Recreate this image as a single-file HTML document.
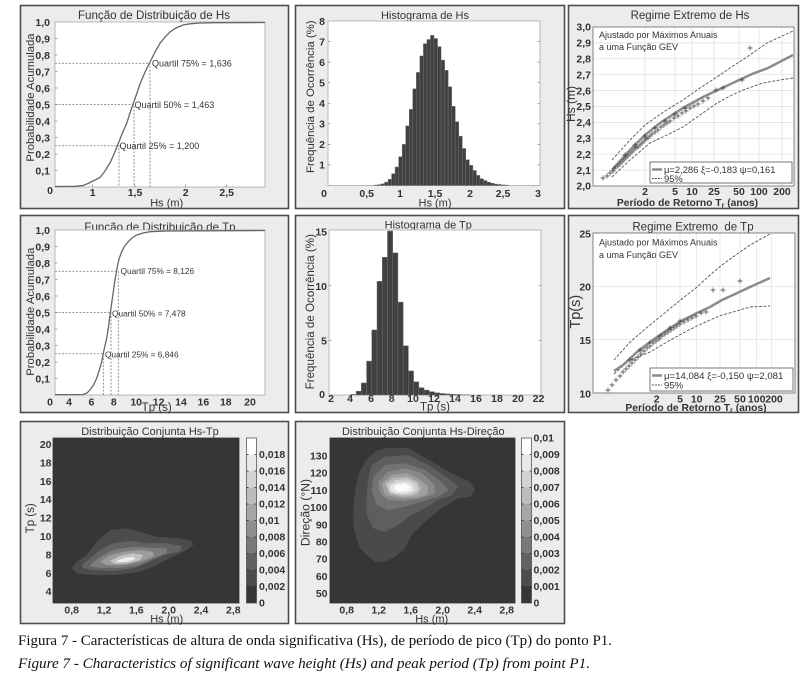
<!DOCTYPE html>
<html><head><meta charset="utf-8">
<style>
html,body{margin:0;padding:0;background:#fff;}
svg{display:block;}
text{fill:#333;font-family:"Liberation Sans",Arial,sans-serif;}
.b{font-weight:bold;font-size:10.5px;}
.r{text-anchor:end;}
.m{text-anchor:middle;}
.q{font-size:9px;}
.cap{font-family:"Liberation Serif","Times New Roman",serif;fill:#111;font-size:15px;}
</style></head>
<body>
<svg xmlns="http://www.w3.org/2000/svg" width="805" height="684" viewBox="0 0 805 684">
<rect width="805" height="684" fill="#fff"/>

<!-- ===== P1 : CDF Hs ===== -->
<rect x="20.5" y="5.5" width="268" height="203" fill="#ececec" stroke="#4d4d4d" stroke-width="1.6"/>
<text x="154" y="19" class="m" font-size="11.6">Função de Distribuição de Hs</text>
<rect x="55" y="22" width="210" height="165" fill="#fff" stroke="#aaa" stroke-width="0.8"/>
<path d="M55,38.5h2.5M55,55h2.5M55,71.5h2.5M55,88h2.5M55,104.5h2.5M55,121h2.5M55,137.5h2.5M55,154h2.5M55,170.5h2.5M92.7,187v-2.5M135,187v-2.5M185.7,187v-2.5M226.7,187v-2.5" stroke="#888" stroke-width="0.7"/>
<text x="50" y="25.8" class="b r">1,0</text>
<text x="50" y="42.3" class="b r">0,9</text>
<text x="50" y="58.8" class="b r">0,8</text>
<text x="50" y="75.3" class="b r">0,7</text>
<text x="50" y="91.8" class="b r">0,6</text>
<text x="50" y="108.3" class="b r">0,5</text>
<text x="50" y="124.8" class="b r">0,4</text>
<text x="50" y="141.3" class="b r">0,3</text>
<text x="50" y="157.8" class="b r">0,2</text>
<text x="50" y="174.3" class="b r">0,1</text>
<text x="50" y="194" class="b m">0</text>
<text x="92.7" y="196" class="b m">1</text>
<text x="135" y="196" class="b m">1,5</text>
<text x="185.7" y="196" class="b m">2</text>
<text x="226.7" y="196" class="b m">2,5</text>
<text x="166.7" y="206.5" class="m" font-size="11">Hs (m)</text>
<text transform="translate(34,97.5) rotate(-90)" class="m" font-size="11.3">Probabilidade Acumulada</text>
<path d="M55,145.75H119V187M55,104.5H134V187M55,63.25H150V187" fill="none" stroke="#777" stroke-width="0.8" stroke-dasharray="2,1.5"/>
<path d="M55,186.5L75,186.3L83,185.5L88,183.5L93,181L100,177.5L105,171L110,163L114,154L118.3,143.5L122,134L126.7,123.3L130,113L133.3,103.3L137,93L140,84L145,72L150,62L155,52L160,43.3L165,37L170,32L176,28L183,25L190,23.8L200,23L215,22.7L265,22.5" fill="none" stroke="#666" stroke-width="1.3"/>
<text x="152" y="66.5" class="q">Quartil 75% = 1,636</text>
<text x="134.5" y="108" class="q">Quartil 50% = 1,463</text>
<text x="119.5" y="149" class="q">Quartil 25% = 1,200</text>

<!-- ===== P2 : Histogram Hs ===== -->
<rect x="295.5" y="5.5" width="269" height="203" fill="#ececec" stroke="#4d4d4d" stroke-width="1.6"/>
<text x="425" y="19" class="m" font-size="11">Histograma de Hs</text>
<rect x="328" y="21" width="212" height="164.5" fill="#fff" stroke="#aaa" stroke-width="0.8"/>
<g transform="translate(328,185.5) scale(70.67,-20.56)" fill="#404040" stroke="#707070" stroke-width="0.5">
<rect vector-effect="non-scaling-stroke" x="0.65" y="0" width="0.05" height="0.02"/>
<rect vector-effect="non-scaling-stroke" x="0.70" y="0" width="0.05" height="0.04"/>
<rect vector-effect="non-scaling-stroke" x="0.75" y="0" width="0.05" height="0.08"/>
<rect vector-effect="non-scaling-stroke" x="0.80" y="0" width="0.05" height="0.16"/>
<rect vector-effect="non-scaling-stroke" x="0.85" y="0" width="0.05" height="0.30"/>
<rect vector-effect="non-scaling-stroke" x="0.90" y="0" width="0.05" height="0.57"/>
<rect vector-effect="non-scaling-stroke" x="0.95" y="0" width="0.05" height="0.90"/>
<rect vector-effect="non-scaling-stroke" x="1.00" y="0" width="0.05" height="1.40"/>
<rect vector-effect="non-scaling-stroke" x="1.05" y="0" width="0.05" height="2.00"/>
<rect vector-effect="non-scaling-stroke" x="1.10" y="0" width="0.05" height="2.90"/>
<rect vector-effect="non-scaling-stroke" x="1.15" y="0" width="0.05" height="3.70"/>
<rect vector-effect="non-scaling-stroke" x="1.20" y="0" width="0.05" height="4.70"/>
<rect vector-effect="non-scaling-stroke" x="1.25" y="0" width="0.05" height="5.50"/>
<rect vector-effect="non-scaling-stroke" x="1.30" y="0" width="0.05" height="6.30"/>
<rect vector-effect="non-scaling-stroke" x="1.35" y="0" width="0.05" height="6.90"/>
<rect vector-effect="non-scaling-stroke" x="1.40" y="0" width="0.05" height="7.10"/>
<rect vector-effect="non-scaling-stroke" x="1.45" y="0" width="0.05" height="7.30"/>
<rect vector-effect="non-scaling-stroke" x="1.50" y="0" width="0.05" height="7.15"/>
<rect vector-effect="non-scaling-stroke" x="1.55" y="0" width="0.05" height="6.75"/>
<rect vector-effect="non-scaling-stroke" x="1.60" y="0" width="0.05" height="6.10"/>
<rect vector-effect="non-scaling-stroke" x="1.65" y="0" width="0.05" height="5.60"/>
<rect vector-effect="non-scaling-stroke" x="1.70" y="0" width="0.05" height="4.80"/>
<rect vector-effect="non-scaling-stroke" x="1.75" y="0" width="0.05" height="3.85"/>
<rect vector-effect="non-scaling-stroke" x="1.80" y="0" width="0.05" height="3.10"/>
<rect vector-effect="non-scaling-stroke" x="1.85" y="0" width="0.05" height="2.40"/>
<rect vector-effect="non-scaling-stroke" x="1.90" y="0" width="0.05" height="1.80"/>
<rect vector-effect="non-scaling-stroke" x="1.95" y="0" width="0.05" height="1.25"/>
<rect vector-effect="non-scaling-stroke" x="2.00" y="0" width="0.05" height="0.98"/>
<rect vector-effect="non-scaling-stroke" x="2.05" y="0" width="0.05" height="0.73"/>
<rect vector-effect="non-scaling-stroke" x="2.10" y="0" width="0.05" height="0.49"/>
<rect vector-effect="non-scaling-stroke" x="2.15" y="0" width="0.05" height="0.33"/>
<rect vector-effect="non-scaling-stroke" x="2.20" y="0" width="0.05" height="0.24"/>
<rect vector-effect="non-scaling-stroke" x="2.25" y="0" width="0.05" height="0.16"/>
<rect vector-effect="non-scaling-stroke" x="2.30" y="0" width="0.05" height="0.11"/>
<rect vector-effect="non-scaling-stroke" x="2.35" y="0" width="0.05" height="0.07"/>
<rect vector-effect="non-scaling-stroke" x="2.40" y="0" width="0.05" height="0.05"/>
<rect vector-effect="non-scaling-stroke" x="2.45" y="0" width="0.05" height="0.03"/>
<rect vector-effect="non-scaling-stroke" x="2.50" y="0" width="0.05" height="0.02"/>
</g>
<path d="M328,164.9h2.5M328,144.4h2.5M328,123.8h2.5M328,103.3h2.5M328,82.7h2.5M328,62.1h2.5M328,41.6h2.5M540,164.9h-2.5M540,144.4h-2.5M540,123.8h-2.5M540,103.3h-2.5M540,82.7h-2.5M540,62.1h-2.5M540,41.6h-2.5" stroke="#888" stroke-width="0.7"/>
<text x="325" y="168.7" class="b r">1</text>
<text x="325" y="148.2" class="b r">2</text>
<text x="325" y="127.6" class="b r">3</text>
<text x="325" y="107.1" class="b r">4</text>
<text x="325" y="86.5" class="b r">5</text>
<text x="325" y="65.9" class="b r">6</text>
<text x="325" y="45.4" class="b r">7</text>
<text x="325" y="24.8" class="b r">8</text>
<text x="324" y="197" class="b m">0</text>
<text x="366.7" y="197" class="b m">0,5</text>
<text x="400" y="197" class="b m">1</text>
<text x="435" y="197" class="b m">1,5</text>
<text x="470" y="197" class="b m">2</text>
<text x="503" y="197" class="b m">2,5</text>
<text x="538" y="197" class="b m">3</text>
<text x="435" y="206.5" class="m" font-size="11">Hs (m)</text>
<text transform="translate(314,96.7) rotate(-90)" class="m" font-size="11.4">Frequência de Ocorrência (%)</text>

<!-- ===== P3 : Regime extremo Hs ===== -->
<rect x="568.5" y="5.5" width="230" height="203" fill="#ececec" stroke="#4d4d4d" stroke-width="1.6"/>
<text x="690" y="19" class="m" font-size="11.5">Regime Extremo de Hs</text>
<rect x="593" y="27" width="201" height="159" fill="#fff"/>
<path d="M593,170.1H794M593,154.2H794M593,138.3H794M593,122.4H794M593,106.5H794M593,90.6H794M593,74.7H794M593,58.8H794M593,42.9H794M645,27V186M675,27V186M692,27V186M714,27V186M739,27V186M759,27V186M782,27V186" stroke="#dedede" stroke-width="0.7"/>
<rect x="593" y="27" width="201" height="159" fill="none" stroke="#666" stroke-width="0.8"/>
<g font-size="9.8">
<text x="591" y="30.7" class="b r" font-size="9.8">3,0</text>
<text x="591" y="46.6" class="b r" font-size="9.8">2,9</text>
<text x="591" y="62.5" class="b r" font-size="9.8">2,8</text>
<text x="591" y="78.4" class="b r" font-size="9.8">2,7</text>
<text x="591" y="94.3" class="b r" font-size="9.8">2,6</text>
<text x="591" y="110.2" class="b r" font-size="9.8">2,5</text>
<text x="591" y="126.1" class="b r" font-size="9.8">2,4</text>
<text x="591" y="142" class="b r" font-size="9.8">2,3</text>
<text x="591" y="157.9" class="b r" font-size="9.8">2,2</text>
<text x="591" y="173.8" class="b r" font-size="9.8">2,1</text>
<text x="591" y="189.7" class="b r" font-size="9.8">2,0</text>
</g>
<text x="645" y="195" class="b m">2</text>
<text x="675" y="195" class="b m">5</text>
<text x="692" y="195" class="b m">10</text>
<text x="714" y="195" class="b m">25</text>
<text x="739" y="195" class="b m">50</text>
<text x="759" y="195" class="b m">100</text>
<text x="782" y="195" class="b m">200</text>
<text x="687.5" y="206" class="m" font-size="10.3" font-weight="bold">Período de Retorno T<tspan font-size="7" dy="1.5">r</tspan><tspan dy="-1.5"> (anos)</tspan></text>
<text transform="translate(575,104) rotate(-90)" class="m" font-size="12">Hs (m)</text>
<text x="599" y="38" font-size="9">Ajustado por Máximos Anuais</text>
<text x="599" y="50" font-size="9">a uma Função GEV</text>
<path d="M612,160L615,156.7L630,140L645,125L665,111L683,100L700,88L717,77L733,66L747,57L767,43L793,31" fill="none" stroke="#555" stroke-width="0.9" stroke-dasharray="3,1.5"/>
<path d="M612,177L630,160L650,143L667,135L683,127L700,115L717,103L730,96L743,90L763,83L780,80L793,78" fill="none" stroke="#555" stroke-width="0.9" stroke-dasharray="3,1.5"/>
<path d="M612,170L620,161L630,150L645,135L660,123L683,108L703,97L720,89L737,81L752,74L768,68L793,55" fill="none" stroke="#8c8c8c" stroke-width="2.5"/>
<path d="M600.5,178h5M603,175.5v5M604.5,176h5M607,173.5v5M607.5,173h5M610,170.5v5M610.5,171h5M613,168.5v5M612.5,168h5M615,165.5v5M615.5,166h5M618,163.5v5M617.5,164h5M620,161.5v5M619.5,162h5M622,159.5v5M621.5,160h5M624,157.5v5M623.5,158h5M626,155.5v5M625.5,156h5M628,153.5v5M627.5,154h5M630,151.5v5M629.5,152h5M632,149.5v5M631.5,150h5M634,147.5v5M633.5,148h5M636,145.5v5M635.5,147h5M638,144.5v5M637.5,145h5M640,142.5v5M639.5,143h5M642,140.5v5M641.5,141h5M644,138.5v5M643.5,139h5M646,136.5v5M645.5,138h5M648,135.5v5M647.5,136h5M650,133.5v5M649.5,134h5M652,131.5v5M652.5,132h5M655,129.5v5M655.5,130h5M658,127.5v5M658.5,127h5M661,124.5v5M661.5,125h5M664,122.5v5M664.5,123h5M667,120.5v5M667.5,121h5M670,118.5v5M671.5,118h5M674,115.5v5M675.5,116h5M678,113.5v5M679.5,113h5M682,110.5v5M683.5,111h5M686,108.5v5M687.5,108h5M690,105.5v5M691.5,106h5M694,103.5v5M695.5,104h5M698,101.5v5M700.5,101h5M703,98.5v5M705.5,98h5M708,95.5v5M713.5,90h5M716,87.5v5M720.5,88h5M723,85.5v5M739.5,80h5M742,77.5v5M747.5,48h5M750,45.5v5M622.5,155h5M625,152.5v5M632.5,145h5M635,142.5v5M642.5,136h5M645,133.5v5M652.5,128h5M655,125.5v5M662.5,121h5M665,118.5v5M672.5,114h5M675,111.5v5M682.5,108h5M685,105.5v5" stroke="#3a3a3a" stroke-width="0.7" fill="none"/>
<rect x="650" y="162" width="142" height="21" fill="#fff" stroke="#555" stroke-width="0.8"/>
<path d="M652,169.5h10" stroke="#8c8c8c" stroke-width="2.5"/>
<path d="M652,178.5h10" stroke="#555" stroke-width="0.9" stroke-dasharray="2,1"/>
<text x="664" y="173" font-size="9.4">μ=2,286 ξ=-0,183 ψ=0,161</text>
<text x="664" y="182" font-size="9.4">95%</text>

<!-- ===== P4 : CDF Tp ===== -->
<rect x="20.5" y="215.5" width="268" height="197" fill="#ececec" stroke="#4d4d4d" stroke-width="1.6"/>
<text x="160" y="231" class="m" font-size="11.6">Função de Distribuição de Tp</text>
<rect x="55" y="230" width="210" height="165" fill="#fff" stroke="#aaa" stroke-width="0.8"/>
<path d="M55,246.5h2.5M55,263h2.5M55,279.5h2.5M55,296h2.5M55,312.5h2.5M55,329h2.5M55,345.5h2.5M55,362h2.5M55,378.5h2.5" stroke="#888" stroke-width="0.7"/>
<text x="50" y="233.8" class="b r">1,0</text>
<text x="50" y="250.3" class="b r">0,9</text>
<text x="50" y="266.8" class="b r">0,8</text>
<text x="50" y="283.3" class="b r">0,7</text>
<text x="50" y="299.8" class="b r">0,6</text>
<text x="50" y="316.3" class="b r">0,5</text>
<text x="50" y="332.8" class="b r">0,4</text>
<text x="50" y="349.3" class="b r">0,3</text>
<text x="50" y="365.8" class="b r">0,2</text>
<text x="50" y="382.3" class="b r">0,1</text>
<text x="50" y="405.5" class="b m">0</text>
<text x="69" y="405.5" class="b m">4</text>
<text x="91.4" y="405.5" class="b m">6</text>
<text x="113.8" y="405.5" class="b m">8</text>
<text x="136.2" y="405.5" class="b m">10</text>
<text x="158.6" y="405.5" class="b m">12</text>
<text x="181" y="405.5" class="b m">14</text>
<text x="203.4" y="405.5" class="b m">16</text>
<text x="225.8" y="405.5" class="b m">18</text>
<text x="250" y="405.5" class="b m">20</text>
<text x="156.7" y="411" class="m" font-size="11.5">Tp (s)</text>
<text transform="translate(34,311.7) rotate(-90)" class="m" font-size="11.3">Probabilidade Acumulada</text>
<path d="M55,353.75H103.3V395M55,312.5H111V395M55,271.25H118.3V395" fill="none" stroke="#777" stroke-width="0.8" stroke-dasharray="2,1.5"/>
<path d="M55,394.7L83,394.5L87,393L90,390L93.5,385L96.7,378.3L99,371L101.7,361.7L104,350L106.7,338.3L108.5,327L110,315L111.7,303L113.3,291.7L115,280L116.7,270L119,259L121.7,251.7L125,245.5L128.3,241.7L132,238L136.7,235L143,233L150,231.7L166.7,231L265,230.5" fill="none" stroke="#666" stroke-width="1.3"/>
<text x="120.5" y="274" font-size="8.3">Quartil 75% = 8,126</text>
<text x="112" y="316.5" font-size="8.3">Quartil 50% = 7,478</text>
<text x="105" y="357.5" font-size="8.3">Quartil 25% = 6,846</text>

<!-- ===== P5 : Histogram Tp ===== -->
<rect x="295.5" y="215.5" width="269" height="197" fill="#ececec" stroke="#4d4d4d" stroke-width="1.6"/>
<text x="428.3" y="228.5" class="m" font-size="11">Histograma de Tp</text>
<rect x="329" y="230" width="212" height="165" fill="#fff" stroke="#aaa" stroke-width="0.8"/>
<g transform="translate(309.1,395) scale(10.45,-10.93)" fill="#404040" stroke="#707070" stroke-width="0.5">
<rect vector-effect="non-scaling-stroke" x="4.0" y="0" width="0.5" height="0.05"/>
<rect vector-effect="non-scaling-stroke" x="4.5" y="0" width="0.5" height="0.35"/>
<rect vector-effect="non-scaling-stroke" x="5.0" y="0" width="0.5" height="1.1"/>
<rect vector-effect="non-scaling-stroke" x="5.5" y="0" width="0.5" height="3.1"/>
<rect vector-effect="non-scaling-stroke" x="6.0" y="0" width="0.5" height="5.95"/>
<rect vector-effect="non-scaling-stroke" x="6.5" y="0" width="0.5" height="10.4"/>
<rect vector-effect="non-scaling-stroke" x="7.0" y="0" width="0.5" height="12.6"/>
<rect vector-effect="non-scaling-stroke" x="7.5" y="0" width="0.5" height="15.0"/>
<rect vector-effect="non-scaling-stroke" x="8.0" y="0" width="0.5" height="13.0"/>
<rect vector-effect="non-scaling-stroke" x="8.5" y="0" width="0.5" height="8.5"/>
<rect vector-effect="non-scaling-stroke" x="9.0" y="0" width="0.5" height="4.5"/>
<rect vector-effect="non-scaling-stroke" x="9.5" y="0" width="0.5" height="2.2"/>
<rect vector-effect="non-scaling-stroke" x="10.0" y="0" width="0.5" height="1.2"/>
<rect vector-effect="non-scaling-stroke" x="10.5" y="0" width="0.5" height="0.67"/>
<rect vector-effect="non-scaling-stroke" x="11.0" y="0" width="0.5" height="0.45"/>
<rect vector-effect="non-scaling-stroke" x="11.5" y="0" width="0.5" height="0.3"/>
<rect vector-effect="non-scaling-stroke" x="12.0" y="0" width="0.5" height="0.2"/>
<rect vector-effect="non-scaling-stroke" x="12.5" y="0" width="0.5" height="0.14"/>
<rect vector-effect="non-scaling-stroke" x="13.0" y="0" width="0.5" height="0.1"/>
<rect vector-effect="non-scaling-stroke" x="13.5" y="0" width="0.5" height="0.07"/>
<rect vector-effect="non-scaling-stroke" x="14.0" y="0" width="0.5" height="0.05"/>
<rect vector-effect="non-scaling-stroke" x="14.5" y="0" width="0.5" height="0.03"/>
<rect vector-effect="non-scaling-stroke" x="15.0" y="0" width="0.5" height="0.02"/>
</g>
<path d="M329,340.4h2.5M329,285.7h2.5M541,340.4h-2.5M541,285.7h-2.5" stroke="#888" stroke-width="0.7"/>
<text x="327" y="235.5" class="b r">15</text>
<text x="327" y="289.8" class="b r">10</text>
<text x="327" y="344.5" class="b r">5</text>
<text x="322" y="398" class="b m">0</text>
<text x="331" y="402" class="b m">2</text>
<text x="350" y="402" class="b m">4</text>
<text x="371" y="402" class="b m">6</text>
<text x="391.7" y="402" class="b m">8</text>
<text x="413" y="402" class="b m">10</text>
<text x="434" y="402" class="b m">12</text>
<text x="455" y="402" class="b m">14</text>
<text x="476" y="402" class="b m">16</text>
<text x="497" y="402" class="b m">18</text>
<text x="518" y="402" class="b m">20</text>
<text x="538.5" y="402" class="b m">22</text>
<text x="435" y="410.5" class="m" font-size="11.5">Tp (s)</text>
<text transform="translate(314,311.7) rotate(-90)" class="m" font-size="11.6">Frequência de Ocorrência (%)</text>

<!-- ===== P6 : Regime extremo Tp ===== -->
<rect x="568.5" y="215.5" width="230" height="197" fill="#ececec" stroke="#4d4d4d" stroke-width="1.6"/>
<text x="693" y="230.5" class="m" font-size="11.5">Regime Extremo&#160; de Tp</text>
<rect x="593" y="233" width="202" height="160" fill="#fff"/>
<path d="M593,286.3H795M593,339.7H795M656.7,233V393M680,233V393M696.7,233V393M720,233V393M740,233V393M756.7,233V393M771.7,233V393" stroke="#dedede" stroke-width="0.7"/>
<rect x="593" y="233" width="202" height="160" fill="none" stroke="#666" stroke-width="0.8"/>
<text x="591" y="237.5" class="b r" font-size="11">25</text>
<text x="591" y="290.5" class="b r" font-size="11">20</text>
<text x="591" y="344" class="b r" font-size="11">15</text>
<text x="591" y="397.5" class="b r" font-size="11">10</text>
<text x="656.7" y="402.5" class="b m">2</text>
<text x="680" y="402.5" class="b m">5</text>
<text x="696.7" y="402.5" class="b m">10</text>
<text x="720" y="402.5" class="b m">25</text>
<text x="740" y="402.5" class="b m">50</text>
<text x="756.7" y="402.5" class="b m">100</text>
<text x="774" y="402.5" class="b m">200</text>
<text x="696" y="411" class="m" font-size="10.3" font-weight="bold">Período de Retorno T<tspan font-size="7" dy="1.5">r</tspan><tspan dy="-1.5"> (anos)</tspan></text>
<text transform="translate(580,311.7) rotate(-90)" class="m" font-size="14.5">Tp(s)</text>
<text x="599" y="245.5" font-size="9">Ajustado por Máximos Anuais</text>
<text x="599" y="258" font-size="9">a uma Função GEV</text>
<path d="M614,360L630,342L650,325L667,311L683,298L697,287L710,275L722,265L733,257L750,245L770,234" fill="none" stroke="#555" stroke-width="0.9" stroke-dasharray="3,1.5"/>
<path d="M614,374L630,360L650,352L667,342L683,333L697,326L710,320L722,315L733,312L750,307L770,306" fill="none" stroke="#555" stroke-width="0.9" stroke-dasharray="3,1.5"/>
<path d="M614,371L623,365L637,352L650,342L667,330L683,320L697,313L710,307L722,300L733,295L750,287L770,278" fill="none" stroke="#8c8c8c" stroke-width="2.5"/>
<path d="M605.5,390h5M608,387.5v5M609.5,385h5M612,382.5v5M613.5,380h5M616,377.5v5M617.5,376h5M620,373.5v5M620.5,372h5M623,369.5v5M623.5,369h5M626,366.5v5M626.5,366h5M629,363.5v5M629.5,363h5M632,360.5v5M632.5,360h5M635,357.5v5M635.5,357h5M638,354.5v5M638.5,354h5M641,351.5v5M641.5,351h5M644,348.5v5M644.5,348h5M647,345.5v5M647.5,346h5M650,343.5v5M650.5,343h5M653,340.5v5M653.5,341h5M656,338.5v5M656.5,339h5M659,336.5v5M659.5,336h5M662,333.5v5M662.5,334h5M665,331.5v5M665.5,332h5M668,329.5v5M668.5,330h5M671,327.5v5M671.5,328h5M674,325.5v5M674.5,326h5M677,323.5v5M677.5,324h5M680,321.5v5M681.5,322h5M684,319.5v5M685.5,320h5M688,317.5v5M689.5,318h5M692,315.5v5M693.5,316h5M696,313.5v5M698.5,313h5M701,310.5v5M703.5,312h5M706,309.5v5M710.5,290h5M713,287.5v5M720.5,290h5M723,287.5v5M737.5,281h5M740,278.5v5M627.5,360h5M630,357.5v5M637.5,350h5M640,347.5v5M647.5,343h5M650,340.5v5M657.5,336h5M660,333.5v5M667.5,328h5M670,325.5v5M677.5,321h5M680,318.5v5" stroke="#3a3a3a" stroke-width="0.7" fill="none"/>
<rect x="650" y="368" width="143" height="23" fill="#fff" stroke="#555" stroke-width="0.8"/>
<path d="M652,375.5h10" stroke="#8c8c8c" stroke-width="2.5"/>
<path d="M652,385h10" stroke="#555" stroke-width="0.9" stroke-dasharray="2,1"/>
<text x="664" y="379" font-size="9.6">μ=14,084 ξ=-0,150 ψ=2,081</text>
<text x="664" y="388.5" font-size="9.6">95%</text>

<!-- ===== P7 : Joint Hs-Tp ===== -->
<rect x="20.5" y="421.5" width="268" height="202" fill="#ececec" stroke="#4d4d4d" stroke-width="1.6"/>
<text x="150" y="435" class="m" font-size="11">Distribuição Conjunta Hs-Tp</text>
<rect x="53" y="438" width="186" height="165" fill="#363636" stroke="#333" stroke-width="0.8"/>
<polygon points="71.7,568.3 76.7,561.7 86.7,555 96.7,541.7 110,530 126.7,528.3 140,531.7 156.7,536.7 180,538.3 191.7,541 193.3,545 186.7,550 170,558.3 156.7,565 140,571.7 116.7,575 93.3,575 76.7,573.3" fill="#4c4c4c"/>
<polygon points="81.7,565 90,558.3 100,550 113.3,543.3 130,541 146.7,543.3 166.7,543.3 181.7,546 180,551.7 163.3,555 146.7,563.3 133.3,568.3 113.3,571 93.3,570 83.3,568.3" fill="#636363"/>
<polygon points="90,565 100,556.7 113.3,550 133.3,546.7 150,547.7 166.7,548.3 166.7,553.3 153.3,558.3 140,565 120,567.7 100,567.7 91.7,566.7" fill="#7d7d7d"/>
<polygon points="100,561.7 110,555 123.3,551.7 140,550 153.3,551.7 153.3,556.7 140,561.7 123.3,565 106.7,565" fill="#9c9c9c"/>
<polygon points="110,561 120,555.7 133.3,553.3 143.3,555 140,560 128.3,563.3 115,564" fill="#c4c4c4"/>
<polygon points="116.7,560.7 125,557.7 133.3,556.7 135,559.3 126.7,561.7 118.3,562.3" fill="#f0f0f0"/>
<rect x="246.5" y="438" width="10" height="16.5" fill="#ffffff"/>
<rect x="246.5" y="454.5" width="10" height="16.5" fill="#e9e9e9"/>
<rect x="246.5" y="471" width="10" height="16.5" fill="#d3d3d3"/>
<rect x="246.5" y="487.5" width="10" height="16.5" fill="#bcbcbc"/>
<rect x="246.5" y="504" width="10" height="16.5" fill="#a6a6a6"/>
<rect x="246.5" y="520.5" width="10" height="16.5" fill="#8f8f8f"/>
<rect x="246.5" y="537" width="10" height="16.5" fill="#797979"/>
<rect x="246.5" y="553.5" width="10" height="16.5" fill="#626262"/>
<rect x="246.5" y="570" width="10" height="16.5" fill="#4c4c4c"/>
<rect x="246.5" y="586.5" width="10" height="16.5" fill="#363636"/>
<rect x="246.5" y="438" width="10" height="165" fill="none" stroke="#444" stroke-width="0.7"/>
<path d="M246.5,454.5h2M246.5,471h2M246.5,487.5h2M246.5,504h2M246.5,520.5h2M246.5,537h2M246.5,553.5h2M246.5,570h2M246.5,586.5h2M256.5,454.5h-2M256.5,471h-2M256.5,487.5h-2M256.5,504h-2M256.5,520.5h-2M256.5,537h-2M256.5,553.5h-2M256.5,570h-2M256.5,586.5h-2" stroke="#222" stroke-width="0.7"/>
<text x="259" y="458" class="b" font-size="9.5">0,018</text>
<text x="259" y="474.5" class="b" font-size="9.5">0,016</text>
<text x="259" y="491" class="b" font-size="9.5">0,014</text>
<text x="259" y="507.5" class="b" font-size="9.5">0,012</text>
<text x="259" y="524" class="b" font-size="9.5">0,01</text>
<text x="259" y="540.5" class="b" font-size="9.5">0,008</text>
<text x="259" y="557" class="b" font-size="9.5">0,006</text>
<text x="259" y="573.5" class="b" font-size="9.5">0,004</text>
<text x="259" y="590" class="b" font-size="9.5">0,002</text>
<text x="259" y="606.5" class="b" font-size="9.5">0</text>
<text x="51.5" y="448" class="b r">20</text>
<text x="51.5" y="466.4" class="b r">18</text>
<text x="51.5" y="484.8" class="b r">16</text>
<text x="51.5" y="503.2" class="b r">14</text>
<text x="51.5" y="521.6" class="b r">12</text>
<text x="51.5" y="540" class="b r">10</text>
<text x="51.5" y="558.4" class="b r">8</text>
<text x="51.5" y="576.8" class="b r">6</text>
<text x="51.5" y="595.2" class="b r">4</text>
<text x="71.7" y="613.5" class="b m">0,8</text>
<text x="104" y="613.5" class="b m">1,2</text>
<text x="136.3" y="613.5" class="b m">1,6</text>
<text x="168.7" y="613.5" class="b m">2,0</text>
<text x="201" y="613.5" class="b m">2,4</text>
<text x="233.3" y="613.5" class="b m">2,8</text>
<text x="166.7" y="622.5" class="m" font-size="11">Hs (m)</text>
<text transform="translate(34,518.3) rotate(-90)" class="m" font-size="11.5">Tp (s)</text>

<!-- ===== P8 : Joint Hs-Direção ===== -->
<rect x="295.5" y="421.5" width="269" height="202" fill="#ececec" stroke="#4d4d4d" stroke-width="1.6"/>
<text x="423.3" y="435" class="m" font-size="11">Distribuição Conjunta Hs-Direção</text>
<rect x="330" y="438" width="185" height="165" fill="#363636" stroke="#333" stroke-width="0.8"/>
<polygon points="385,447.7 408.3,447.7 431.7,461.7 458.3,476.7 470,481.7 475,490 470,496.7 458.3,498.3 441.7,508.3 425,521.7 411.7,535 405,548.3 395,556.7 385,561.7 375,561.7 368.3,556.7 360,548.3 356.7,538.3 353.3,525 353.3,508.3 355,491.7 358.3,475 365,461.7 375,451.7" fill="#4a4a4a"/>
<polygon points="371.7,465 385,456.7 408.3,455 428.3,465 448.3,478.3 458.3,486.7 451.7,495 438.3,500 425,508.3 411.7,515 398.3,525 385,531.7 373.3,528.3 366.7,515 366.7,495 368.3,478.3" fill="#5e5e5e"/>
<polygon points="373.3,476.7 385,465 405,463.3 425,470 441.7,481.7 448.3,490 438.3,496.7 421.7,501.7 405,506.7 388.3,510 376.7,505 371.7,491.7" fill="#737373"/>
<polygon points="378.3,481.7 388.3,471.7 405,468.3 421.7,473.3 435,485 435,493.3 421.7,498.3 405,501 388.3,500 380,493.3" fill="#888888"/>
<polygon points="381.7,483.3 391.7,475 406.7,473.3 418.3,478.3 428.3,486.7 426.7,495 415,498.3 398.3,498.3 385,495" fill="#9f9f9f"/>
<polygon points="385,483.3 393.3,477.7 406.7,476.7 416.7,481 421.7,488.3 416.7,495 403.3,496.7 390,494.3" fill="#b7b7b7"/>
<polygon points="386.7,485 395,480 408.3,479.3 416.7,483.3 418.3,490 411.7,494.3 400,495 390,492.3" fill="#d0d0d0"/>
<polygon points="390,485.7 398.3,482.3 408.3,482.3 413.3,485.7 413.3,491 406.7,493.3 396.7,493.3 391,491" fill="#e7e7e7"/>
<polygon points="395,485 405,483.3 410,486.7 408.3,491 398.3,491.7 394.3,489" fill="#fbfbfb"/>
<rect x="521.5" y="438" width="10" height="16.5" fill="#ffffff"/>
<rect x="521.5" y="454.5" width="10" height="16.5" fill="#e9e9e9"/>
<rect x="521.5" y="471" width="10" height="16.5" fill="#d3d3d3"/>
<rect x="521.5" y="487.5" width="10" height="16.5" fill="#bcbcbc"/>
<rect x="521.5" y="504" width="10" height="16.5" fill="#a6a6a6"/>
<rect x="521.5" y="520.5" width="10" height="16.5" fill="#8f8f8f"/>
<rect x="521.5" y="537" width="10" height="16.5" fill="#797979"/>
<rect x="521.5" y="553.5" width="10" height="16.5" fill="#626262"/>
<rect x="521.5" y="570" width="10" height="16.5" fill="#4c4c4c"/>
<rect x="521.5" y="586.5" width="10" height="16.5" fill="#363636"/>
<rect x="521.5" y="438" width="10" height="165" fill="none" stroke="#444" stroke-width="0.7"/>
<path d="M521.5,454.5h2M521.5,471h2M521.5,487.5h2M521.5,504h2M521.5,520.5h2M521.5,537h2M521.5,553.5h2M521.5,570h2M521.5,586.5h2M531.5,454.5h-2M531.5,471h-2M531.5,487.5h-2M531.5,504h-2M531.5,520.5h-2M531.5,537h-2M531.5,553.5h-2M531.5,570h-2M531.5,586.5h-2" stroke="#222" stroke-width="0.7"/>
<text x="533.5" y="441.5" class="b" font-size="9.5">0,01</text>
<text x="533.5" y="458" class="b" font-size="9.5">0,009</text>
<text x="533.5" y="474.5" class="b" font-size="9.5">0,008</text>
<text x="533.5" y="491" class="b" font-size="9.5">0,007</text>
<text x="533.5" y="507.5" class="b" font-size="9.5">0,006</text>
<text x="533.5" y="524" class="b" font-size="9.5">0,005</text>
<text x="533.5" y="540.5" class="b" font-size="9.5">0,004</text>
<text x="533.5" y="557" class="b" font-size="9.5">0,003</text>
<text x="533.5" y="573.5" class="b" font-size="9.5">0,002</text>
<text x="533.5" y="590" class="b" font-size="9.5">0,001</text>
<text x="533.5" y="606.5" class="b" font-size="9.5">0</text>
<text x="327.5" y="459.5" class="b r">130</text>
<text x="327.5" y="476.7" class="b r">120</text>
<text x="327.5" y="493.9" class="b r">110</text>
<text x="327.5" y="511.1" class="b r">100</text>
<text x="327.5" y="528.3" class="b r">90</text>
<text x="327.5" y="545.5" class="b r">80</text>
<text x="327.5" y="562.7" class="b r">70</text>
<text x="327.5" y="579.9" class="b r">60</text>
<text x="327.5" y="597.1" class="b r">50</text>
<text x="346.7" y="613.5" class="b m">0,8</text>
<text x="378.7" y="613.5" class="b m">1,2</text>
<text x="410.7" y="613.5" class="b m">1,6</text>
<text x="442.7" y="613.5" class="b m">2,0</text>
<text x="474.7" y="613.5" class="b m">2,4</text>
<text x="506.7" y="613.5" class="b m">2,8</text>
<text x="431.7" y="622.5" class="m" font-size="11">Hs (m)</text>
<text transform="translate(309.5,512.5) rotate(-90)" class="m" font-size="12.2">Direção (°N)</text>

<!-- ===== Caption ===== -->
<text x="18" y="645" class="cap" textLength="594" lengthAdjust="spacingAndGlyphs">Figura 7 - Características de altura de onda significativa (Hs), de período de pico (Tp) do ponto P1.</text>
<text x="18" y="668" class="cap" font-style="italic" textLength="572" lengthAdjust="spacingAndGlyphs">Figure 7 - Characteristics of significant wave height (Hs) and peak period (Tp) from point P1.</text>
</svg>
</body></html>
